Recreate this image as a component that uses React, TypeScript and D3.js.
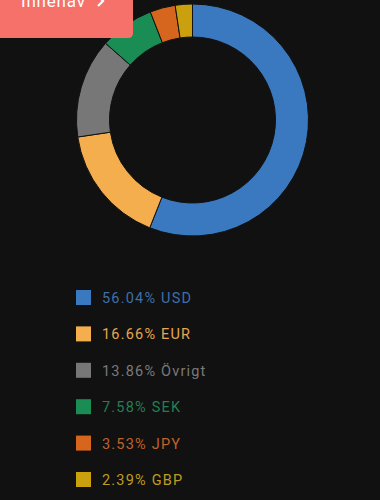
import React from "react";
import * as d3 from "d3";

const labels = ["USD", "EUR", "Övrigt", "SEK", "JPY", "GBP"];
const values = [56.04, 16.66, 13.86, 7.58, 3.53, 2.39];
const colors = ["#3a78bf", "#f5ae4e", "#777777", "#1a8d55", "#d6661d", "#caa00f"];
const textColors = ["#3f6fa6", "#e7a650", "#7a7a7a", "#237f52", "#c0622a", "#bf9c22"];

const W = 380;
const H = 500;

export default function App() {
  const cx = 192.5;
  const cy = 120;
  const outerR = 116;
  const innerR = 83;
  const pie = d3.pie<number>().sort(null).value((d) => d)(values);
  const arc = d3.arc<d3.PieArcDatum<number>>().innerRadius(innerR).outerRadius(outerR);

  const legendY = d3.scaleLinear().domain([0, labels.length - 1]).range([298, 480]);

  return (
    <svg
      width={W}
      height={H}
      style={{ position: "fixed", left: 0, top: 0, background: "#111111" }}
    >
      <rect x={0} y={0} width={W} height={H} fill="#111111" />
      <g transform={`translate(${cx},${cy})`}>
        {pie.map((p, i) => (
          <path key={i} d={arc(p) || ""} fill={colors[i]} stroke="#111111" strokeWidth={1} />
        ))}
      </g>
      {/* Button */}
      <path d="M0,-10 H133 V33 Q133,38 128,38 H0 Z" fill="#f5716a" />
      <text
        x={21}
        y={7}
        fill="#ffffff"
        fontFamily="Roboto, sans-serif"
        fontSize={17}
        letterSpacing={0.8}
      >
        Innehav
      </text>
      <path d="M98,-4 L103,1 L98,6" fill="none" stroke="#ffffff" strokeWidth={2.2} />
      {/* Legend */}
      {labels.map((l, i) => {
        const y = legendY(i);
        return (
          <g key={l}>
            <rect x={76} y={y - 8} width={15} height={15} fill={colors[i]} />
            <text
              x={102}
              y={y + 5}
              fill={textColors[i]}
              fontFamily="Roboto, sans-serif"
              fontSize={14.5}
              letterSpacing={1.2}
            >
              {`${values[i].toFixed(2)}% ${l}`}
            </text>
          </g>
        );
      })}
    </svg>
  );
}
